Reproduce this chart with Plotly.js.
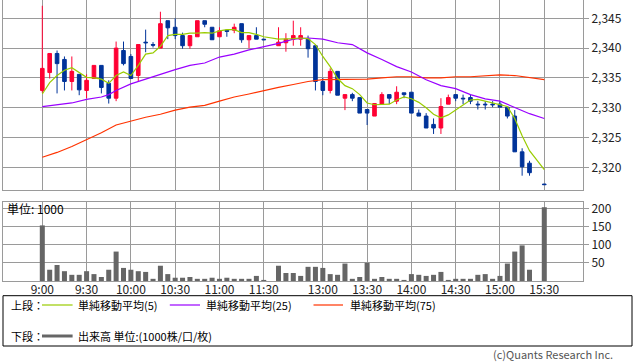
<!DOCTYPE html>
<html>
<head>
<meta charset="utf-8">
<script src="https://cdn.plot.ly/plotly-3.0.1.min.js"></script>
<style>
html,body{margin:0;padding:0;background:#fff;}
#chart{width:638px;height:362px;}
</style>
</head>
<body>
<div id="chart"></div>
<script>
// ---- data ----
var times = ["9:00","9:05","9:10","9:15","9:20","9:25","9:30","9:35","9:40","9:45","9:50","9:55",
  "10:00","10:05","10:10","10:15","10:20","10:25","10:30","10:35","10:40","10:45","10:50","10:55",
  "11:00","11:05","11:10","11:15","11:20","11:25","11:30",
  "12:30","12:35","12:40","12:45","12:50","12:55",
  "13:00","13:05","13:10","13:15","13:20","13:25","13:30","13:35","13:40","13:45","13:50","13:55",
  "14:00","14:05","14:10","14:15","14:20","14:25","14:30","14:35","14:40","14:45","14:50","14:55",
  "15:00","15:05","15:10","15:15","15:20","15:30"];

var openP = [2332.9,2335.9,2339.1,2338.1,2334.4,2335.6,2332.9,2334.9,2337.1,2334.1,2331.6,2339.6,
  2338.6,2335.4,2341.0,2340.6,2340.0,2344.6,2343.5,2342.1,2340.4,2341.9,2344.6,2343.5,
  2341.9,2343.0,2343.0,2344.1,2341.4,2342.1,2341.5,
  2340.4,2340.9,2341.5,2341.5,2341.5,2340.4,
  2334.4,2332.9,2336.1,2331.6,2332.2,2331.7,2329.7,2328.6,2330.6,2332.2,2331.1,2332.5,
  2332.6,2329.1,2328.6,2327.2,2326.6,2330.6,2332.2,2331.6,2331.7,2330.6,2330.6,2330.6,
  2330.6,2330.1,2328.6,2322.6,2320.7,2317.2];
var highP = [2347.1,2339.1,2339.6,2338.6,2338.6,2335.6,2335.6,2337.1,2337.1,2334.6,2341.1,2341.1,
  2339.0,2340.6,2343.1,2341.0,2346.1,2344.6,2345.0,2342.6,2342.1,2344.6,2344.6,2343.5,
  2343.5,2343.0,2344.1,2344.1,2342.1,2343.5,2341.5,
  2343.5,2342.5,2344.6,2343.5,2342.1,2340.4,
  2335.0,2336.6,2336.1,2332.2,2332.5,2331.7,2329.7,2330.7,2332.6,2332.2,2333.6,2332.5,
  2332.6,2329.7,2329.1,2328.2,2331.6,2332.2,2332.2,2332.2,2332.2,2331.1,2331.1,2331.1,
  2331.1,2330.1,2329.6,2323.2,2321.1,2317.2];
var lowP = [2332.5,2334.9,2332.4,2332.9,2332.9,2332.1,2331.6,2334.9,2332.4,2330.7,2331.1,2337.1,
  2334.9,2334.4,2339.3,2340.1,2340.0,2341.5,2341.5,2339.9,2339.9,2341.9,2343.5,2341.4,
  2341.9,2341.9,2342.5,2340.9,2340.0,2341.5,2341.4,
  2340.4,2339.4,2340.4,2340.4,2338.4,2332.9,
  2332.1,2332.4,2332.1,2329.6,2331.1,2329.1,2327.1,2328.6,2330.6,2330.6,2330.6,2331.6,
  2329.1,2328.6,2326.6,2325.6,2325.6,2330.6,2331.1,2330.6,2330.6,2329.7,2329.7,2330.1,
  2330.1,2328.2,2322.6,2318.6,2318.6,2317.1];
var closeP = [2336.6,2339.1,2337.4,2334.4,2336.1,2333.0,2334.6,2337.1,2333.4,2331.6,2340.0,2337.4,
  2334.9,2340.6,2340.9,2340.5,2344.1,2343.4,2342.1,2340.4,2342.1,2344.6,2344.0,2341.4,
  2342.9,2342.8,2343.5,2341.4,2342.1,2341.5,2341.4,
  2341.0,2341.5,2342.1,2342.1,2339.9,2334.4,
  2332.9,2336.1,2332.1,2332.2,2331.6,2329.1,2329.1,2330.7,2332.2,2331.6,2332.6,2332.2,
  2329.1,2328.6,2326.6,2326.6,2330.2,2331.7,2331.6,2331.5,2331.1,2330.5,2330.5,2330.5,
  2330.1,2328.6,2322.6,2320.1,2319.1,2317.1];
var volume = [153,31,44,27,17,17,27,19,11,31,81,36,
  31,27,25,6,42,19,9,9,11,6,6,9,
  6,9,6,6,6,14,3,
  42,22,22,14,39,39,
  36,19,17,48,6,11,50,6,11,6,6,3,
  19,17,14,17,25,3,6,6,6,17,19,6,
  14,48,81,98,31,203];
var ma5 = [2332.3,2334.2,2335.4,2336.3,2336.7,2335.9,2335.1,2335.0,2334.8,2334.1,2335.4,2336.0,
  2335.4,2337.1,2339.0,2339.2,2340.3,2342.1,2342.3,2342.3,2342.5,2342.5,2342.6,2342.5,
  2342.9,2343.1,2343.1,2342.6,2342.6,2342.3,2341.9,
  2341.5,2341.5,2341.6,2341.7,2341.6,2340.6,
  2338.6,2336.9,2334.9,2333.7,2333.2,2332.2,2330.8,2330.5,2330.5,2330.6,2331.3,2331.8,
  2331.5,2330.9,2330.0,2328.9,2328.3,2328.8,2329.6,2330.5,2331.3,2331.4,2331.1,2330.8,
  2330.5,2330.2,2328.2,2325.3,2322.8,2319.6];
var ma25 = [2330.2,null,2330.5,null,2330.8,null,2331.4,null,2331.8,2332.2,2332.9,null,
  2334.0,null,2334.8,null,2335.7,null,2336.4,null,2337.1,null,2337.5,null,
  2338.5,null,2339.0,null,2339.7,null,2340.2,
  2340.8,null,2341.5,null,2341.7,null,
  2341.5,null,2340.9,null,2340.6,null,2339.2,null,2338.1,null,2336.9,null,
  2336.0,null,2334.7,null,2333.7,null,2333.2,null,2332.2,null,2331.5,null,
  2331.1,2330.6,2330.0,null,2329.0,2328.2];
var ma75 = [2321.7,null,2322.5,null,2323.5,null,2324.6,null,2325.8,null,2327.1,null,
  2327.8,null,2328.4,null,2328.9,null,2329.6,null,2330.1,null,2330.4,null,
  2331.1,null,2331.8,null,2332.3,null,2332.9,
  2333.4,null,2333.9,null,2334.4,null,
  2334.7,null,2334.7,null,null,null,2334.8,null,2335.0,null,2335.2,null,
  2335.2,null,2335.0,null,2335.0,null,2335.2,null,2335.2,null,2335.3,null,
  2335.5,null,2335.4,null,2335.0,2334.7];
var xTickLabels = ["9:00","9:30","10:00","10:30","11:00","11:30","13:00","13:30","14:00","14:30","15:00","15:30"];
var priceTicks = [2320,2325,2330,2335,2340,2345];
var volTicks = [50,100,150,200];

// ---- slot mapping: 5-minute slots, lunch break compressed ----
function slot(t){
  var p = t.split(":"); var m = (+p[0])*60 + (+p[1]);
  return (m - 540)/5 - (m >= 750 ? 10 : 0);
}
var xs = times.map(slot);
var xTickVals = xTickLabels.map(slot);

// ---- geometry helpers (plot area: left 3px, width 580px, top 0, height 281px) ----
var L = 3, W = 580, T = 0, H = 281;
function px(X){ return (X - L)/W; }
function py(Y){ return (T + H - Y)/H; }

var FONT = "'Noto Sans CJK JP', 'Noto Sans', sans-serif";
var GRID = "#9a9a9a";
var RED = "#ff0033", BLUE = "#003399";

var traces = [
  {type:"candlestick", x:xs, open:openP, high:highP, low:lowP, close:closeP,
   xaxis:"x", yaxis:"y", whiskerwidth:0,
   increasing:{line:{color:RED,width:1}, fillcolor:RED},
   decreasing:{line:{color:BLUE,width:1}, fillcolor:BLUE},
   hoverinfo:"skip", showlegend:false},
  {type:"scatter", mode:"lines", x:xs, y:ma75, connectgaps:true, xaxis:"x", yaxis:"y",
   line:{color:"#ff3300", width:1.2}, hoverinfo:"skip", showlegend:false},
  {type:"scatter", mode:"lines", x:xs, y:ma25, connectgaps:true, xaxis:"x", yaxis:"y",
   line:{color:"#9900ff", width:1.2}, hoverinfo:"skip", showlegend:false},
  {type:"scatter", mode:"lines", x:xs, y:ma5, connectgaps:true, xaxis:"x", yaxis:"y",
   line:{color:"#99cc00", width:1.2}, hoverinfo:"skip", showlegend:false},
  {type:"bar", x:xs, y:volume, xaxis:"x2", yaxis:"y2", width:0.68,
   marker:{color:"#666666", line:{width:0}}, hoverinfo:"skip", showlegend:false}
];

var xr = [(L - 42.3)/7.382, (L + W - 42.3)/7.382];
var axisCommon = {showgrid:true, gridcolor:GRID, gridwidth:1, showline:true, mirror:true,
  linecolor:GRID, linewidth:1, zeroline:false, fixedrange:true};

var annFont = {family:FONT, size:11, color:"#000"};
var rowA = 305, rowB = 336;
var layout = {
  width:638, height:362,
  margin:{l:L, r:638-L-W, t:T, b:362-T-H, pad:0},
  paper_bgcolor:"#fff", plot_bgcolor:"#fff",
  showlegend:false,
  font:{family:FONT, size:12, color:"#222"},
  xaxis: Object.assign({}, axisCommon, {domain:[0,1], anchor:"y", range:xr,
    tickmode:"array", tickvals:xTickVals, showticklabels:false, ticks:"",
    rangeslider:{visible:false}}),
  yaxis: Object.assign({}, axisCommon, {domain:[py(190),1], anchor:"x", side:"right",
    range:[2316.2, 2348.07], tickmode:"array", tickvals:priceTicks, tickformat:",d",
    ticks:"outside", ticklen:5, tickcolor:GRID, tickfont:{family:FONT,size:12,color:"#222"}}),
  xaxis2: Object.assign({}, axisCommon, {domain:[0,1], anchor:"y2", range:xr,
    tickmode:"array", tickvals:xTickVals, ticktext:xTickLabels, ticks:"",
    ticklabelstandoff:-2,
    tickfont:{family:FONT,size:12,color:"#222"}}),
  yaxis2: Object.assign({}, axisCommon, {domain:[0,py(202)], anchor:"x2", side:"right",
    range:[0,217.4], tickmode:"array", tickvals:volTicks,
    ticks:"outside", ticklen:5, tickcolor:GRID, tickfont:{family:FONT,size:12,color:"#222"}}),
  shapes:[
    {type:"rect", xref:"paper", yref:"paper", x0:px(3), x1:px(632), y0:py(295.7), y1:py(346),
     line:{color:"#000", width:1}, fillcolor:"rgba(0,0,0,0)"},
    {type:"line", xref:"paper", yref:"paper", x0:px(42), x1:px(72.6), y0:py(rowA), y1:py(rowA),
     line:{color:"#99cc00", width:1.2}},
    {type:"line", xref:"paper", yref:"paper", x0:px(169.8), x1:px(200), y0:py(rowA), y1:py(rowA),
     line:{color:"#9900ff", width:1.2}},
    {type:"line", xref:"paper", yref:"paper", x0:px(313.5), x1:px(343), y0:py(rowA), y1:py(rowA),
     line:{color:"#ff3300", width:1.2}},
    {type:"line", xref:"paper", yref:"paper", x0:px(42), x1:px(72.6), y0:py(rowB), y1:py(rowB),
     line:{color:"#666666", width:3}}
  ],
  annotations:[
    {xref:"paper", yref:"paper", x:px(5), y:py(208.5), text:"単位: 1000", showarrow:false,
     xanchor:"left", yanchor:"middle", font:{family:FONT, size:12, color:"#000"}},
    {xref:"paper", yref:"paper", x:px(9), y:py(rowA), text:"上段：", showarrow:false,
     xanchor:"left", yanchor:"middle", font:annFont},
    {xref:"paper", yref:"paper", x:px(76), y:py(rowA), text:"単純移動平均(5)", showarrow:false,
     xanchor:"left", yanchor:"middle", font:annFont},
    {xref:"paper", yref:"paper", x:px(204), y:py(rowA), text:"単純移動平均(25)", showarrow:false,
     xanchor:"left", yanchor:"middle", font:annFont},
    {xref:"paper", yref:"paper", x:px(348), y:py(rowA), text:"単純移動平均(75)", showarrow:false,
     xanchor:"left", yanchor:"middle", font:annFont},
    {xref:"paper", yref:"paper", x:px(9), y:py(rowB), text:"下段：", showarrow:false,
     xanchor:"left", yanchor:"middle", font:annFont},
    {xref:"paper", yref:"paper", x:px(76), y:py(rowB), text:"出来高 単位:(1000株/口/枚)", showarrow:false,
     xanchor:"left", yanchor:"middle", font:annFont},
    {xref:"paper", yref:"paper", x:px(615), y:py(354), text:"(c)Quants Research Inc.", showarrow:false,
     xanchor:"right", yanchor:"middle", font:{family:FONT, size:11, color:"#555"}}
  ]
};

Plotly.newPlot("chart", traces, layout, {staticPlot:true, displayModeBar:false});
</script>
</body>
</html>
